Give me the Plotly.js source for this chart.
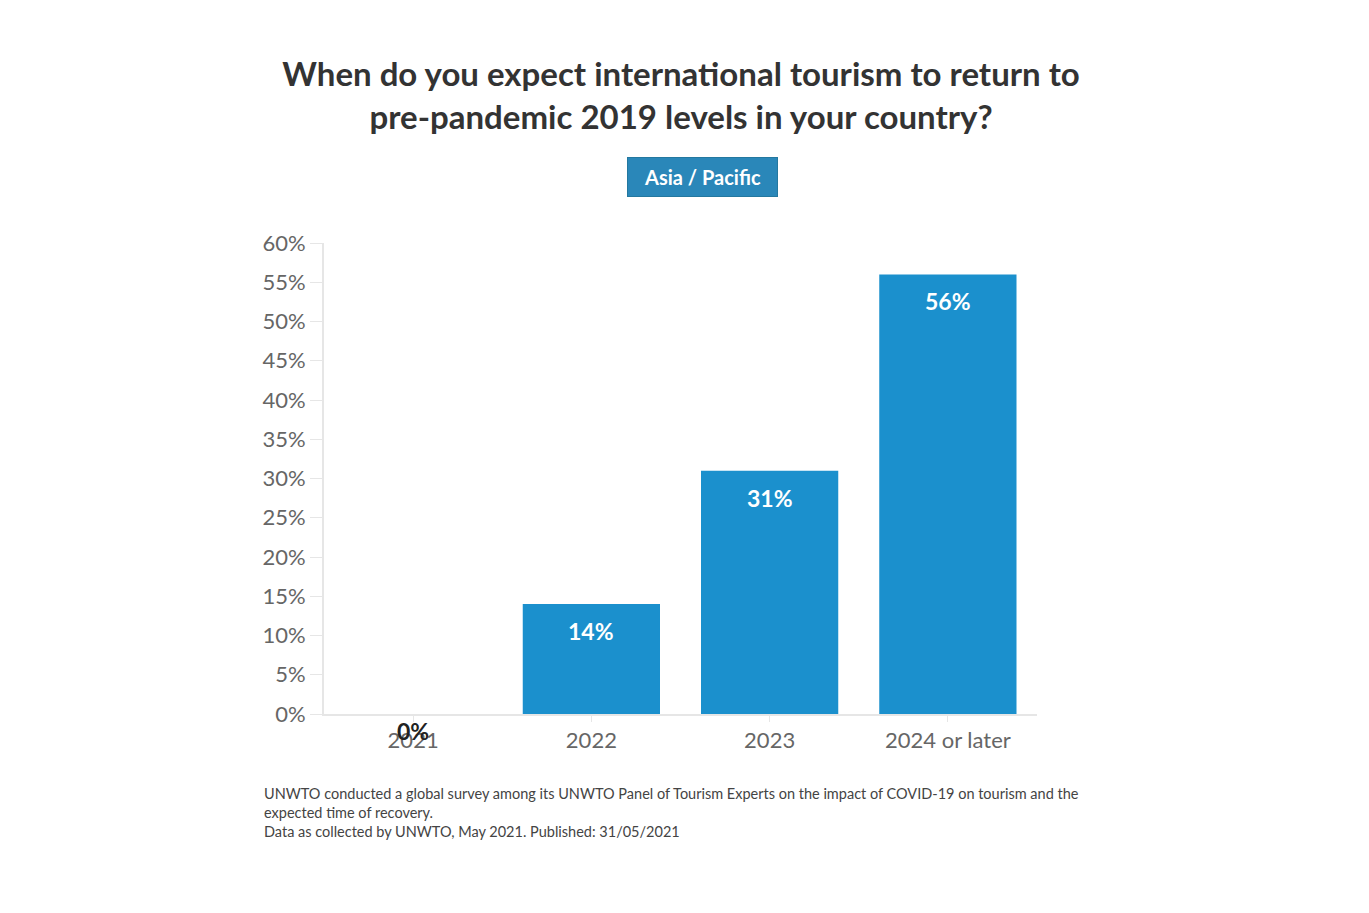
<!DOCTYPE html>
<html>
<head>
<meta charset="utf-8">
<script src="https://cdn.plot.ly/plotly-3.0.1.min.js"></script>
<style>
  html, body { margin: 0; padding: 0; background: #fff; }
  #chart { width: 1369px; height: 913px; }
</style>
</head>
<body>
<div id="chart"></div>
<script>
var periods = ['2021', '2022', '2023', '2024 or later'];
var shares = [0, 14, 31, 56];
var yTicks = [0, 5, 10, 15, 20, 25, 30, 35, 40, 45, 50, 55, 60];

var FONT = 'Lato, "Open Sans", sans-serif';

var trace = {
  type: 'bar',
  x: periods,
  y: shares,
  marker: { color: '#1b90cd' },
  hoverinfo: 'x+y'
};

// value labels: white inside the bar, dark under the axis for empty bars
var labels = shares.map(function (v, i) {
  return {
    x: i, y: v, xref: 'x', yref: 'y',
    text: '<b>' + v + '%</b>',
    showarrow: false,
    yanchor: 'top',
    yshift: v > 0 ? -11 : -1,
    font: { family: FONT, size: 23, color: v > 0 ? '#ffffff' : '#222222' }
  };
});

var notes = {
  xref: 'paper', yref: 'paper', x: -0.087, y: -0.146,
  xanchor: 'left', yanchor: 'top', align: 'left', showarrow: false,
  text: 'UNWTO conducted a global survey among its UNWTO Panel of Tourism Experts on the impact of COVID-19 on tourism and the<br>' +
        'expected time of recovery.<br>' +
        'Data as collected by UNWTO, May 2021. Published: 31/05/2021',
  font: { family: FONT, size: 14.5, color: '#444444' }
};

var region = {
  xref: 'paper', yref: 'paper', x: 0.531, y: 1.14,
  xanchor: 'center', yanchor: 'middle', showarrow: false,
  text: '<b>Asia / Pacific</b>',
  width: 147, height: 36,
  bgcolor: '#2a87b9', bordercolor: '#24789f', borderwidth: 1,
  font: { family: FONT, size: 20, color: '#ffffff' }
};

var layout = {
  width: 1369, height: 913,
  margin: { l: 324, r: 332, t: 243, b: 199 },
  paper_bgcolor: '#ffffff',
  plot_bgcolor: '#ffffff',
  font: { family: FONT, color: '#666666' },
  title: {
    text: '<b>When do you expect international tourism to return to<br>pre-pandemic 2019 levels in your country?</b>',
    font: { family: FONT, size: 33, color: '#333333' },
    xref: 'container', x: 0.4975,
    yref: 'container', y: 1 - 86 / 913, yanchor: 'top'
  },
  bargap: 0.23,
  showlegend: false,
  xaxis: {
    type: 'category',
    range: [-0.5, periods.length - 0.5],
    showline: true, linecolor: '#e6e6e6', linewidth: 2,
    ticks: 'outside', ticklen: 6, tickcolor: '#e6e6e6',
    tickfont: { family: FONT, size: 22, color: '#666666' },
    showgrid: false, zeroline: false, fixedrange: true
  },
  yaxis: {
    range: [0, 60],
    tickvals: yTicks,
    ticktext: yTicks.map(function (t) { return t + '%'; }),
    showline: true, linecolor: '#e6e6e6', linewidth: 2,
    ticks: 'outside', ticklen: 12, tickcolor: '#e6e6e6',
    tickfont: { family: FONT, size: 22, color: '#666666' },
    showgrid: false, zeroline: false, fixedrange: true
  },
  annotations: labels.concat([notes, region])
};

Plotly.newPlot('chart', [trace], layout, { displayModeBar: false });
</script>
</body>
</html>
